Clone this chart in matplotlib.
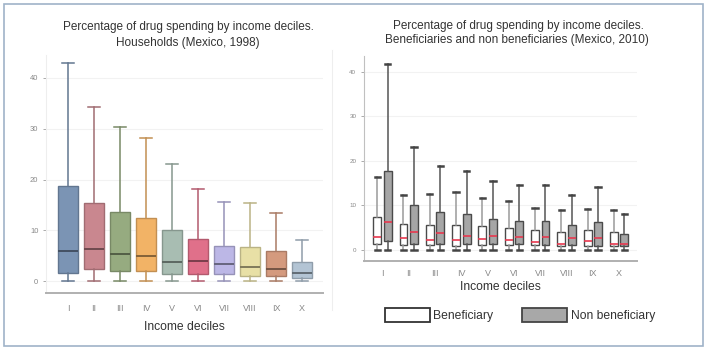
import matplotlib.pyplot as plt
from matplotlib.patches import Patch, Rectangle
from matplotlib.lines import Line2D
import numpy as np

plt.rcParams['font.family'] = ['Liberation Sans', 'DejaVu Sans']

deciles = ['I', 'II', 'III', 'IV', 'V', 'VI', 'VII', 'VIII', 'IX', 'X']

# households 1998 (percent of spending on drugs)
hh_low = [0, 0, 0, 0, 0, 0, 0, 0, 0, 0]
hh_q1 = [1.6, 2.4, 2.0, 2.0, 1.4, 1.5, 1.4, 1.1, 1.1, 0.6]
hh_med = [6.0, 6.3, 5.4, 5.0, 3.7, 3.9, 3.5, 2.9, 2.5, 1.6]
hh_q3 = [18.8, 15.3, 13.6, 12.5, 10.1, 8.3, 7.0, 6.8, 6.0, 3.7]
hh_high = [42.9, 34.2, 30.3, 28.2, 23.0, 18.2, 15.6, 15.3, 13.4, 8.2]
hh_colors = ['#7b94b4', '#c9878f', '#96ab80', '#f2b366', '#a8bdb2',
             '#e0708a', '#bcb7e6', '#e8e0a6', '#d49a7e', '#b3c4d4']

# 2010, beneficiaries
ben_low = [0, 0, 0, 0, 0, 0, 0, 0, 0, 0]
ben_q1 = [1.3, 1.0, 1.0, 0.9, 1.0, 1.0, 1.0, 0.8, 0.9, 0.8]
ben_med = [2.9, 2.6, 2.3, 2.2, 2.4, 2.3, 1.7, 1.4, 1.9, 1.4]
ben_q3 = [7.4, 5.9, 5.6, 5.6, 5.3, 5.0, 4.4, 4.0, 4.4, 4.0]
ben_high = [16.5, 12.3, 12.6, 13.0, 11.7, 11.1, 9.5, 8.9, 9.3, 8.9]

# 2010, non beneficiaries
non_low = [0, 0, 0, 0, 0, 0, 0, 0, 0, 0]
non_q1 = [2.0, 1.4, 1.4, 1.3, 1.3, 1.3, 1.0, 1.1, 0.9, 0.8]
non_med = [6.2, 4.1, 3.8, 3.2, 3.2, 3.0, 2.8, 2.6, 2.6, 1.4]
non_q3 = [17.8, 10.2, 8.5, 8.0, 7.0, 6.6, 6.6, 5.6, 6.2, 3.6]
non_high = [41.7, 23.2, 18.9, 17.8, 15.4, 14.7, 14.6, 12.3, 14.1, 8.0]


def make_stats(low, q1, med, q3, high):
    return [{'whislo': a, 'q1': b, 'med': c, 'q3': d, 'whishi': e, 'fliers': []}
            for a, b, c, d, e in zip(low, q1, med, q3, high)]


def darker(c, f=0.65):
    r, g, b = plt.matplotlib.colors.to_rgb(c)
    return (r * f, g * f, b * f)


fig = plt.figure(figsize=(7.08, 3.55), dpi=100)

# outer frame and faint divider
fig.add_artist(Rectangle((4 / 708, 1 - 346 / 355), 699 / 708, 342 / 355,
                         transform=fig.transFigure, fill=False,
                         edgecolor='#9fb3c8', lw=1.2))
fig.add_artist(Line2D([332 / 708, 332 / 708], [1 - 310 / 355, 1 - 50 / 355],
                      transform=fig.transFigure, color='#eeeeee', lw=0.8))

# ---- left panel
ax1 = fig.add_axes([46 / 708, 1 - 293 / 355, 277 / 708, 238 / 355])
pos = np.arange(1, 11)
b1 = ax1.bxp(make_stats(hh_low, hh_q1, hh_med, hh_q3, hh_high), positions=pos,
             widths=0.76, capwidths=0.45, patch_artist=True, showfliers=False)
for i, c in enumerate(hh_colors):
    edge = darker(c, 0.8)
    b1['boxes'][i].set(facecolor=c, edgecolor=edge, lw=1.0)
    b1['medians'][i].set(color=darker(c, 0.55), lw=1.4)
    for k in (2 * i, 2 * i + 1):
        b1['whiskers'][k].set(color=edge, lw=1.1)
        b1['caps'][k].set(color=edge, lw=1.1)

ax1.set_xlim(0.15, 10.8)
ax1.set_ylim(-2.3, 44.5)
ax1.set_yticks([0, 10, 20, 30, 40])
ax1.set_xticks(pos)
ax1.set_xticklabels(deciles)
ax1.yaxis.grid(True, color='#f2f2f2', lw=0.8)
ax1.set_axisbelow(True)
for s in ('top', 'right'):
    ax1.spines[s].set_visible(False)
ax1.spines['left'].set_color('#eeeeee')
ax1.spines['bottom'].set_color('#b0b0b0')
ax1.spines['bottom'].set_linewidth(1.4)
ax1.tick_params(axis='y', labelsize=5.5, colors='#888888', length=2, width=0.5)
ax1.tick_params(axis='x', labelsize=6.5, colors='#888888', length=0, pad=8)
ax1.set_xlabel('Income deciles', fontsize=8.7, color='#333333', labelpad=6)

fig.text(188 / 708, 1 - 27 / 355, 'Percentage of drug spending by income deciles.',
         ha='center', va='center', fontsize=8.5, color='#333333')
fig.text(188 / 708, 1 - 43 / 355, 'Households (Mexico, 1998)',
         ha='center', va='center', fontsize=8.5, color='#333333')

# ---- right panel
ax2 = fig.add_axes([364 / 708, 1 - 261 / 355, 273 / 708, 205 / 355])
off = 0.2
b_ben = ax2.bxp(make_stats(ben_low, ben_q1, ben_med, ben_q3, ben_high),
                positions=pos - off, widths=0.3, capwidths=0.2,
                patch_artist=True, showfliers=False)
b_non = ax2.bxp(make_stats(non_low, non_q1, non_med, non_q3, non_high),
                positions=pos + off, widths=0.3, capwidths=0.2,
                patch_artist=True, showfliers=False)
for res, fc, wc in ((b_ben, 'white', '#9a9a9a'), (b_non, '#a6a6a6', '#555555')):
    for bx in res['boxes']:
        bx.set(facecolor=fc, edgecolor='#4a4a4a', lw=1.0)
    for m in res['medians']:
        m.set(color='#e8384f', lw=1.2)
    for w in res['whiskers']:
        w.set(color=wc, lw=1.1)
    for cp in res['caps']:
        cp.set(color='#444444', lw=1.8)

ax2.set_xlim(0.3, 10.68)
ax2.set_ylim(-2.5, 43.6)
ax2.set_yticks([0, 10, 20, 30, 40])
ax2.set_xticks(pos)
ax2.set_xticklabels(deciles)
ax2.yaxis.grid(True, color='#f2f2f2', lw=0.8)
ax2.set_axisbelow(True)
for s in ('top', 'right'):
    ax2.spines[s].set_visible(False)
ax2.spines['left'].set_color('#c0c0c0')
ax2.spines['bottom'].set_color('#b0b0b0')
ax2.spines['bottom'].set_linewidth(1.4)
ax2.tick_params(axis='y', labelsize=4.5, colors='#888888', length=2, width=0.5)
ax2.tick_params(axis='x', labelsize=6.5, colors='#888888', length=0, pad=6)
ax2.set_xlabel('Income deciles', fontsize=8.7, color='#333333', labelpad=2)

fig.text(518 / 708, 1 - 26 / 355, 'Percentage of drug spending by income deciles.',
         ha='center', va='center', fontsize=8.5, color='#333333')
fig.text(517 / 708, 1 - 40 / 355, 'Beneficiaries and non beneficiaries (Mexico, 2010)',
         ha='center', va='center', fontsize=8.5, color='#333333')

handles = [Patch(facecolor='white', edgecolor='#333333', lw=1.3),
           Patch(facecolor='#a8a8a8', edgecolor='#444444', lw=1.3)]
fig.legend(handles, ['Beneficiary', 'Non beneficiary'], ncol=2, frameon=False,
           loc='upper left', bbox_to_anchor=(385 / 708, 1 - 308 / 355),
           fontsize=8.7, handlelength=3.7, handleheight=1.4, handletextpad=0.3,
           columnspacing=2.4, borderpad=0, borderaxespad=0, labelcolor='#333333')

fig.savefig('out.png', dpi=100)
